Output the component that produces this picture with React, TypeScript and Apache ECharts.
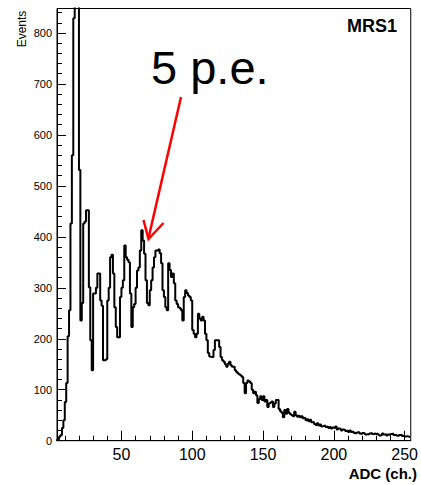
import React, { useEffect, useRef } from "react";
import * as echarts from "echarts";

// Histogram: first bin lower edge and bin width (ADC channels)
const binStart = 4;
const binWidth = 1;
// Events per bin (bins 4..253)
const counts = [
  1, 3, 8, 11, 25, 40, 76, 113, 205, 256,
  426, 560, 829, 1000, 1250, 1180, 531, 236, 270, 426,
  430, 452, 452, 301, 197, 138, 289, 289, 300, 328,
  328, 275, 265, 158, 158, 160, 275, 300, 360, 365,
  328, 262, 223, 203, 203, 282, 300, 315, 383, 360,
  355, 350, 289, 223, 262, 268, 300, 334, 340, 373,
  413, 393, 367, 315, 270, 266, 295, 315, 340, 360,
  373, 373, 375, 368, 348, 295, 282, 262, 256, 348,
  335, 321, 328, 309, 275, 268, 262, 260, 256, 236,
  282, 295, 290, 285, 282, 275, 217, 210, 203, 210,
  249, 240, 236, 243, 236, 210, 197, 172, 165, 164,
  164, 178, 197, 197, 197, 184, 164, 158, 155, 150,
  145, 151, 155, 148, 145, 145, 138, 135, 132, 130,
  128, 125, 113, 93, 113, 118, 116, 113, 100, 93,
  96, 89, 74, 82, 87, 80, 87, 77, 80, 66,
  73, 75, 77, 66, 73, 80, 80, 62, 58, 55,
  46, 60, 53, 62, 55, 52, 50, 48, 57, 50,
  47, 49, 46, 48, 44, 45, 40, 42, 38, 41,
  36, 37, 33, 31, 34, 30, 32, 28, 29, 30,
  27, 28, 25, 27, 24, 26, 25, 28, 22, 24,
  23, 20, 22, 21, 19, 20, 17, 20, 17, 18,
  15, 14, 16, 17, 14, 13, 15, 14, 12, 13,
  12, 14, 15, 13, 14, 13, 14, 12, 10, 11,
  14, 12, 13, 10, 12, 11, 13, 14, 11, 12,
  10, 9, 11, 12, 9, 10, 8, 9, 8, 7,
];

const xRange = [4.5, 254.3];
const yRange = [0, 848];
const xMajorTicks = [50, 100, 150, 200, 250];
const xMinorTicks = [10, 20, 30, 40, 60, 70, 80, 90, 110, 120, 130, 140, 160, 170, 180, 190, 210, 220, 230, 240];
const yMajorTicks = [0, 100, 200, 300, 400, 500, 600, 700, 800];
const yMinorTicks = [20, 40, 60, 80, 120, 140, 160, 180, 220, 240, 260, 280, 320, 340, 360, 380, 420, 440, 460, 480, 520, 540, 560, 580, 620, 640, 660, 680, 720, 740, 760, 780, 820, 840];

const xTitle = "ADC (ch.)";
const yTitle = "Events";
const histName = "MRS1";
const annotation = "5 p.e.";

const FONT = "'Liberation Sans', Arial, Helvetica, sans-serif";

export default function App() {
  const ref = useRef<HTMLDivElement>(null);

  useEffect(() => {
    if (!ref.current) return;
    const chart = echarts.init(ref.current, null, { renderer: "svg" });
    const data: number[][] = counts.map((c, i) => [binStart + i * binWidth, c]);
    data.push([binStart + counts.length * binWidth, counts[counts.length - 1]]);

    const majorAxisX = {
      type: "value",
      min: xRange[0],
      max: xRange[1],
      position: "bottom",
      axisLine: { show: true, onZero: false, lineStyle: { color: "#000", width: 1 } },
      axisTick: { show: true, inside: true, length: 10, customValues: xMajorTicks, lineStyle: { color: "#000", width: 1 } },
      axisLabel: { customValues: xMajorTicks, fontSize: 16, color: "#000", fontFamily: FONT, margin: 6 },
      splitLine: { show: false },
    };
    const minorAxisX = {
      type: "value",
      min: xRange[0],
      max: xRange[1],
      position: "bottom",
      axisLine: { show: false },
      axisTick: { show: true, inside: true, length: 5, customValues: xMinorTicks, lineStyle: { color: "#000", width: 1 } },
      axisLabel: { show: false },
      splitLine: { show: false },
    };
    const majorAxisY = {
      type: "value",
      min: yRange[0],
      max: yRange[1],
      position: "left",
      axisLine: { show: true, onZero: false, lineStyle: { color: "#000", width: 1 } },
      axisTick: { show: true, inside: true, length: 9, customValues: yMajorTicks, lineStyle: { color: "#000", width: 1 } },
      axisLabel: { customValues: yMajorTicks, fontSize: 11, color: "#000", fontFamily: FONT, margin: 5 },
      splitLine: { show: false },
    };
    const minorAxisY = {
      type: "value",
      min: yRange[0],
      max: yRange[1],
      position: "left",
      axisLine: { show: false },
      axisTick: { show: true, inside: true, length: 5, customValues: yMinorTicks, lineStyle: { color: "#000", width: 1 } },
      axisLabel: { show: false },
      splitLine: { show: false },
    };

    chart.setOption({
      animation: false,
      backgroundColor: "#fff",
      grid: {
        left: 57,
        right: 4.5,
        top: 8.5,
        bottom: 44.3,
        show: true,
        borderColor: "#000",
        borderWidth: 1,
        backgroundColor: "transparent",
      },
      xAxis: [majorAxisX, minorAxisX],
      yAxis: [majorAxisY, minorAxisY],
      series: [
        {
          type: "line",
          xAxisIndex: 0,
          yAxisIndex: 0,
          step: "end",
          symbol: "none",
          showSymbol: false,
          clip: true,
          lineStyle: { color: "#000", width: 2 },
          data,
        },
      ],
      graphic: [
        {
          type: "text",
          x: 22,
          y: 29,
          rotation: Math.PI / 2,
          style: { text: yTitle, font: `12px ${FONT}`, fill: "#000", textAlign: "center", textVerticalAlign: "middle" },
        },
        {
          type: "text",
          x: 417,
          y: 473,
          style: { text: xTitle, font: `bold 15px ${FONT}`, fill: "#000", textAlign: "right", textVerticalAlign: "middle" },
        },
        {
          type: "text",
          x: 372,
          y: 26,
          style: { text: histName, font: `bold 18px ${FONT}`, fill: "#000", textAlign: "center", textVerticalAlign: "middle" },
        },
        {
          type: "text",
          x: 151,
          y: 91,
          style: { text: annotation, font: `47px ${FONT}`, fill: "#000", textAlign: "left", textVerticalAlign: "bottom" },
        },
        {
          type: "line",
          shape: { x1: 181, y1: 97, x2: 148.5, y2: 238 },
          style: { stroke: "#ff0000", lineWidth: 2.5 },
        },
        {
          type: "polyline",
          shape: { points: [[143.5, 220], [148.5, 239], [163.5, 223]] },
          style: { stroke: "#ff0000", lineWidth: 2.5, fill: "none" },
        },
      ],
    });
    return () => chart.dispose();
  }, []);

  return <div ref={ref} style={{ position: "fixed", left: 0, top: 0, width: 421, height: 485 }} />;
}
